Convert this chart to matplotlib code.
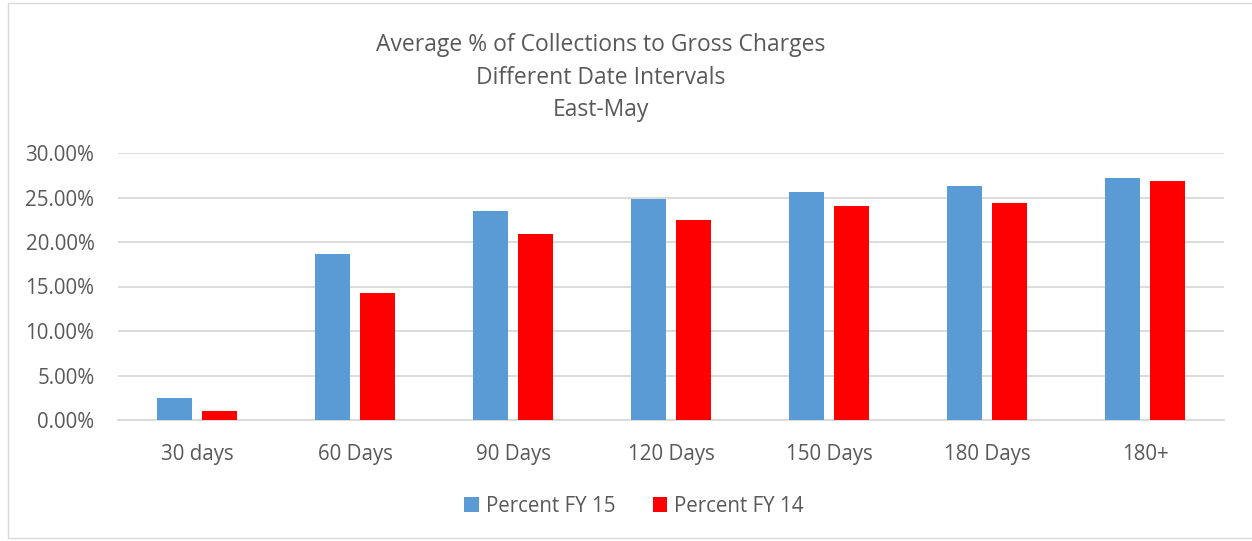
import matplotlib
matplotlib.use("Agg")
import matplotlib.pyplot as plt
import numpy as np
from matplotlib.patches import Rectangle
from matplotlib.ticker import FuncFormatter

categories = ["30 days", "60 Days", "90 Days", "120 Days", "150 Days", "180 Days", "180+"]
fy15 = [2.47, 18.7, 23.48, 24.86, 25.62, 26.29, 27.15]
fy14 = [0.97, 14.27, 20.9, 22.47, 24.0, 24.34, 26.8]
series_names = ["Percent FY 15", "Percent FY 14"]
title_lines = ["Average % of Collections to Gross Charges", "Different Date Intervals", "East-May"]

W, H = 1252, 541
fig = plt.figure(figsize=(W / 100, H / 100), dpi=100)
plt.rcParams['font.family'] = ['Open Sans', 'DejaVu Sans']
txt = '#595959'

def fx(px):
    return px / W

def fy(py):
    return 1 - py / H

# outer chart border
fig.patches.append(Rectangle((fx(8), fy(538)), fx(1300 - 8), fy(3) - fy(538),
                             transform=fig.transFigure, fill=False,
                             edgecolor='#D9D9D9', linewidth=1.0))

ax = fig.add_axes([fx(118), fy(420), fx(1224 - 118), fy(153) - fy(420)])
x = np.arange(len(categories))
bw = 0.225
off = 0.142
ax.bar(x - off, fy15, width=bw, color='#5B9BD5', label=series_names[0], zorder=3)
ax.bar(x + off, fy14, width=bw, color='#FF0000', label=series_names[1], zorder=3)

ax.set_xlim(-0.5, len(categories) - 0.5)
ax.set_ylim(0, 30)
ax.set_yticks(np.arange(0, 31, 5))
ax.yaxis.set_major_formatter(FuncFormatter(lambda v, p: f"{v:.2f}%"))
ax.grid(axis='y', color='#D9D9D9', linewidth=1.3, zorder=0)
ax.set_axisbelow(True)
for s in ['top', 'right', 'left']:
    ax.spines[s].set_visible(False)
ax.spines['bottom'].set_color('#D9D9D9')
ax.spines['bottom'].set_linewidth(1.3)
ax.set_xticks(x)
ax.set_xticklabels(categories)
ax.tick_params(axis='both', length=0, labelsize=14.8, colors=txt, labelcolor=txt)
ax.tick_params(axis='x', pad=17)
ax.tick_params(axis='y', pad=17)

for i, line in enumerate(title_lines):
    fig.text(fx(601), fy(45 + i * 32.5), line, ha='center', va='center',
             fontsize=16.5, color=txt)

leg = ax.legend(loc='center', bbox_to_anchor=(fx(634), fy(506)),
                bbox_transform=fig.transFigure, ncol=2, frameon=False,
                fontsize=14.8, handlelength=0.7, handleheight=0.7,
                handletextpad=0.35, columnspacing=1.8)
for t in leg.get_texts():
    t.set_color(txt)

fig.savefig("out.png", dpi=100)
